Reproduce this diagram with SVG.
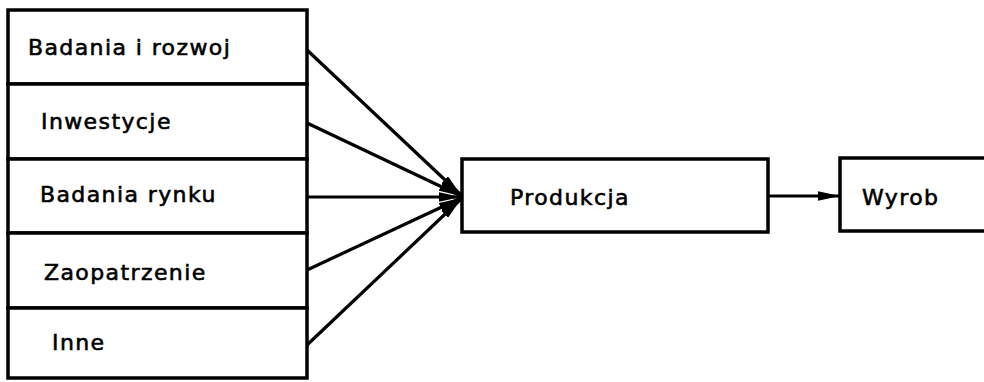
<svg xmlns="http://www.w3.org/2000/svg" width="984" height="382" viewBox="0 0 984 382">
<style>
.box{fill:#fff;stroke:#000;stroke-width:3.5}
.lbl{font-family:"DejaVu Sans",sans-serif;font-size:22px;fill:#000;stroke:#000;stroke-width:0.6px;letter-spacing:1.4px}
.con{stroke:#000;stroke-width:3.2;fill:none}
</style>
<defs>
<marker id="ah" markerWidth="7" markerHeight="3" refX="7" refY="1.5" orient="auto" markerUnits="strokeWidth">
<path d="M0,0 L7,1.5 L0,3 Z" fill="#000"/>
</marker>
</defs>
<rect width="984" height="382" fill="#fff"/>
<g id="n1"><rect class="box" x="8" y="10" width="299" height="74"/><text class="lbl" x="28" y="55">Badania i rozwoj</text></g>
<g id="n2"><rect class="box" x="8" y="84" width="299" height="75"/><text class="lbl" x="41" y="129">Inwestycje</text></g>
<g id="n3"><rect class="box" x="8" y="159" width="299" height="74"/><text class="lbl" x="40" y="202">Badania rynku</text></g>
<g id="n4"><rect class="box" x="8" y="233" width="299" height="75"/><text class="lbl" x="44" y="280">Zaopatrzenie</text></g>
<g id="n5"><rect class="box" x="8" y="308" width="299" height="70"/><text class="lbl" x="52" y="350">Inne</text></g>
<g id="n6"><rect class="box" x="462" y="159" width="306" height="73"/><text class="lbl" x="510" y="205">Produkcja</text></g>
<g id="n7"><rect class="box" x="840" y="158" width="150" height="73"/><text class="lbl" x="862" y="205">Wyrob</text></g>
<g id="connectors">
<line class="con" x1="307" y1="50" x2="461" y2="195" marker-end="url(#ah)"/>
<line class="con" x1="307" y1="123" x2="461" y2="196" marker-end="url(#ah)"/>
<line class="con" x1="307" y1="197" x2="461" y2="197" marker-end="url(#ah)"/>
<line class="con" x1="307" y1="270" x2="461" y2="198" marker-end="url(#ah)"/>
<line class="con" x1="307" y1="345" x2="461" y2="199" marker-end="url(#ah)"/>
<line class="con" x1="768" y1="196" x2="840" y2="196" marker-end="url(#ah)"/>
</g>
</svg>
